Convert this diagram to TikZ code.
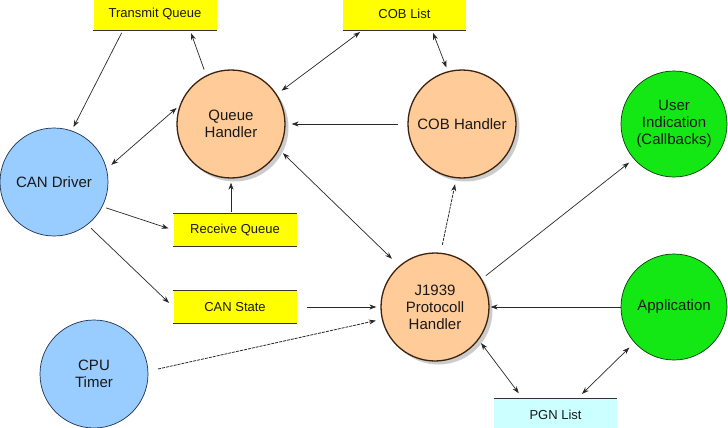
\documentclass[tikz,border=0pt]{standalone}
\usepackage{fontspec}
\setmainfont{Liberation Sans}
\usetikzlibrary{arrows.meta,shadows}
\definecolor{peach}{RGB}{255,204,153}
\definecolor{peachline}{RGB}{60,35,15}
\definecolor{skyb}{RGB}{153,204,255}
\definecolor{skyline}{RGB}{30,50,80}
\definecolor{greenf}{RGB}{20,232,20}
\definecolor{greenline}{RGB}{10,60,10}
\definecolor{boxyellow}{RGB}{255,255,0}
\definecolor{pgncyan}{RGB}{204,255,255}
\definecolor{txt}{RGB}{25,25,25}
\definecolor{lin}{RGB}{40,40,40}
\begin{document}
\begin{tikzpicture}[x=1pt,y=-1pt,
  circ/.style={circle,inner sep=0pt,align=center,text=txt,
    font=\fontsize{15}{17}\selectfont},
  handler/.style={circ,fill=peach,draw=peachline,line width=1.3pt,minimum size=108pt,
    drop shadow={shadow xshift=3.5pt,shadow yshift=-3.5pt,fill=black!50,opacity=0.4}},
  bluec/.style={circ,fill=skyb,draw=skyline,line width=0.7pt,minimum size=108pt},
  greenc/.style={circ,fill=greenf,draw=greenline,line width=0.7pt,minimum size=106pt},
  databox/.style={rectangle,inner sep=0pt,minimum width=123pt,minimum height=32pt,
    fill=boxyellow,text=txt,font=\fontsize{13}{15}\selectfont},
  boxline/.style={draw=black!80,line width=0.9pt},
  conn/.style={draw=lin,line width=0.7pt},
  arr/.style={conn,-{Stealth[length=7pt,width=5pt]}},
  darr/.style={conn,{Stealth[length=7pt,width=5pt]}-{Stealth[length=7pt,width=5pt]}},
  dsh/.style={line width=0.8pt,dash pattern=on 3pt off 1pt}
]
\useasboundingbox[fill=white] (0,0) rectangle (728,428);

% boxes
\node[databox] (TQ) at (155,14) {Transmit Queue};
\node[databox] (COBL) at (404.5,14) {COB List};
\node[databox] (RQ) at (235,230) {Receive Queue};
\node[databox] (CS) at (235,307) {CAN State};
\node[databox,fill=pgncyan] (PGN) at (555.5,415) {PGN List};
\draw[boxline] (TQ.south west) -- (TQ.south east);
\draw[boxline] (COBL.south west) -- (COBL.south east);
\draw[boxline] (RQ.north west) -- (RQ.north east);
\draw[boxline] (RQ.south west) -- (RQ.south east);
\draw[boxline] (CS.north west) -- (CS.north east);
\draw[boxline] (CS.south west) -- (CS.south east);
\draw[boxline] (PGN.north west) -- (PGN.north east);

% circles
\node[bluec] (CAN) at (54,182) {CAN Driver};
\node[bluec] (CPU) at (94,374) {CPU\\Timer};
\node[handler] (QH) at (231,124) {Queue\\Handler};
\node[handler] (COBH) at (462,124) {COB Handler};
\node[handler] (J) at (435,307) {J1939\\Protocoll\\Handler};
\node[greenc] (UI) at (674,124) {User\\Indication\\(Callbacks)};
\node[greenc] (App) at (674,307) {Application};

% connectors
\draw[arr,shorten <=3pt,shorten >=4pt] ([xshift=-32pt]TQ.south) -- (CAN.71);
\draw[arr,shorten <=6pt,shorten >=3pt] (QH.117) -- ([xshift=35pt]TQ.south);
\draw[darr,shorten <=3pt,shorten >=6pt] ([xshift=-42pt]COBL.south) -- (QH.33);
\draw[darr,shorten <=6pt,shorten >=4pt] (CAN.14) -- (QH.160);
\draw[arr,shorten <=9pt,shorten >=6pt] (COBH.west) -- (QH.east);
\draw[darr,shorten <=3pt,shorten >=4pt] ([xshift=27.5pt]COBL.south) -- (COBH.105);
\draw[arr,shorten <=2pt,shorten >=4pt] (RQ.north -| QH.south) -- (QH.south);
\draw[darr,shorten <=5pt,shorten >=10pt] (QH.-28) -- (J.131);
\draw[arr,dsh,shorten <=8pt,shorten >=6pt] (J.84) -- (COBH.264);
\draw[arr,shorten <=5pt,shorten >=6pt] (J.31) -- (UI.221);
\draw[arr,shorten >=1pt] (App.west) -- (J.east);
\draw[darr,shorten <=4pt,shorten >=7pt] (J.-37) -- ([xshift=-32.5pt]PGN.north);
\draw[darr,shorten <=7pt,shorten >=7pt] (App.222) -- ([xshift=21.5pt]PGN.north);
\draw[arr,shorten <=4pt,shorten >=5pt] (CAN.-27) -- (RQ.west);
\draw[arr,shorten <=5pt,shorten >=6pt] (CAN.-52) -- (CS.west);
\draw[arr,shorten <=10pt,shorten >=4pt] (CS.east) -- (J.west);
\draw[arr,dsh,shorten <=10pt,shorten >=6pt] (CPU.3) -- (J.193);
\end{tikzpicture}
\end{document}
